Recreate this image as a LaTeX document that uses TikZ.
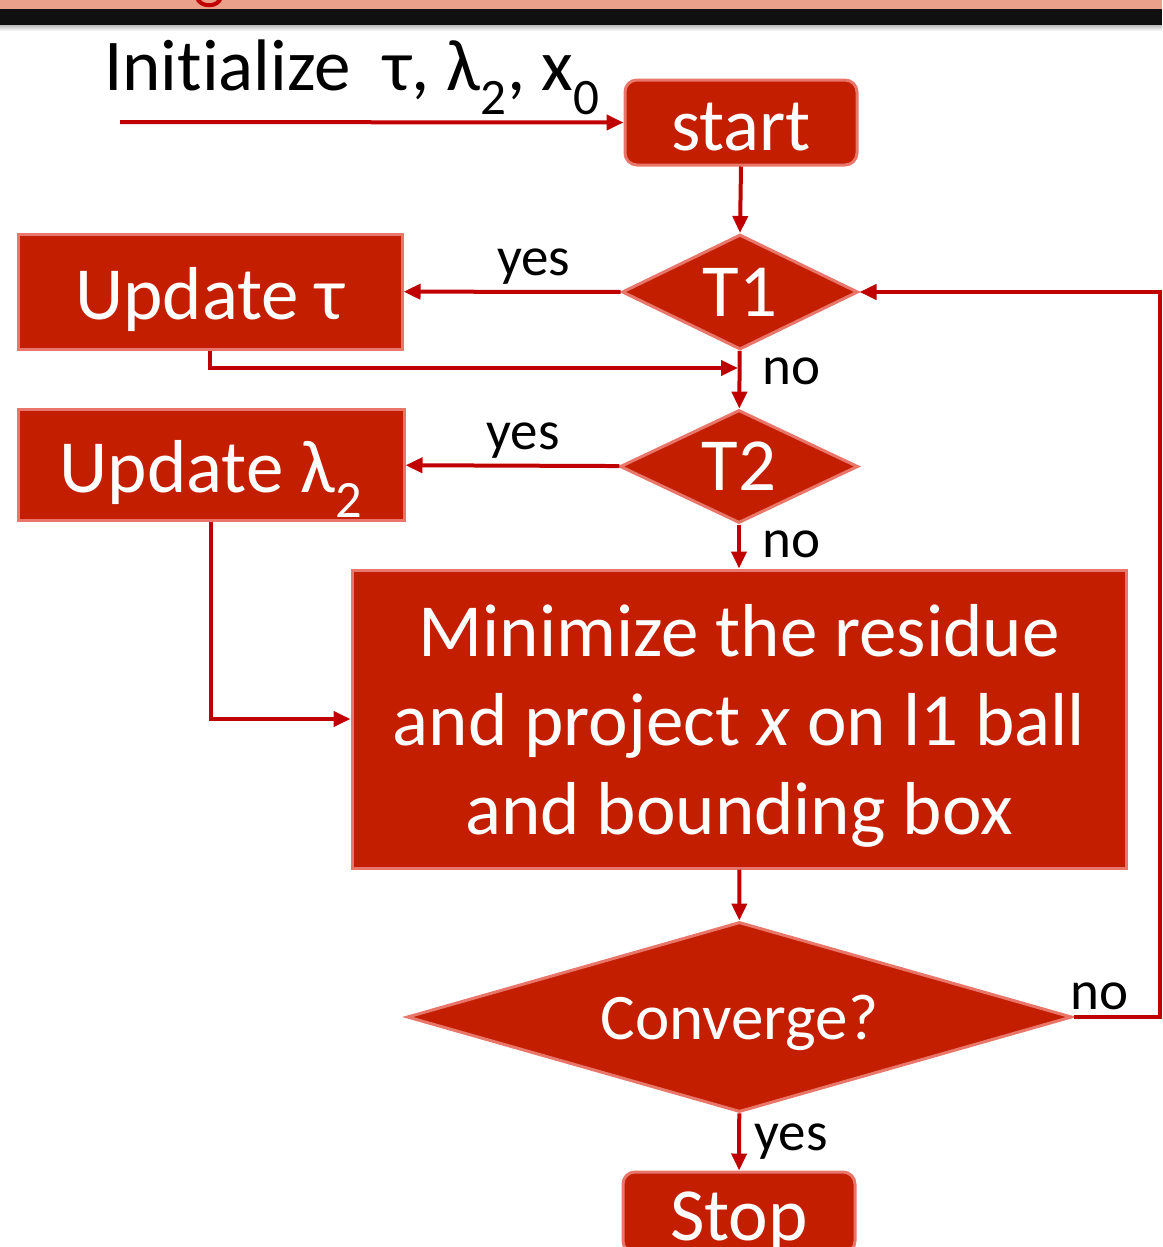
\documentclass[tikz,border=0pt]{standalone}
\usepackage{fontspec}
\setmainfont{Carlito}
\usetikzlibrary{arrows.meta,shapes.geometric,calc}

\definecolor{boxred}{RGB}{196,30,0}
\definecolor{rimred}{RGB}{232,118,106}
\definecolor{linered}{RGB}{192,0,0}
\definecolor{bandpink}{RGB}{234,160,138}
\definecolor{bandblack}{RGB}{16,16,16}

\tikzset{
  redbox/.style={draw=rimred, fill=boxred, line width=3pt, text=white, inner sep=0pt,
    text depth=0pt, font=\fontsize{75}{89}\selectfont},
  onebox/.style={redbox, text height=55pt},
  reddiamond/.style={redbox, shape=diamond, aspect=2},
  flow/.style={draw=linered, line width=4pt, ->},
  lbl/.style={font=\fontsize{55}{64}\selectfont, text=black}
}

\begin{document}
\begin{tikzpicture}[x=1pt,y=-1pt,>={Triangle[length=17pt,width=15pt]}]
    \clip (0,0) rectangle (1162,1247);
    % banner at the top
    \fill[bandpink] (0,0) rectangle (1162,9);
    \fill[bandblack] (0,9) rectangle (1162,26);
    \shade[top color=black!22, bottom color=white] (0,26) rectangle (1162,31);
    \draw[linered, line width=4pt] (197,-3) .. controls (199,8) and (219,8) .. (221,-3);

    \node [anchor=base west, inner sep=0pt, font=\fontsize{73}{80}\selectfont](init) at (104,90) {Init\kern0pt ialize\ \ τ, λ\textsubscript{2}, x\textsubscript{0}};
    \coordinate (initin) at (120,122);

    \node [onebox, rounded corners=12pt, minimum width=232pt, minimum height=85pt](start) at (741,122.5) {start};
    \node [reddiamond, minimum width=236pt, minimum height=115pt](t1) at (740,292) {T1};
    \node [onebox, minimum width=384pt, minimum height=115pt](updtau) at (210,291.5) {Update τ};
    \node [reddiamond, minimum width=238pt, minimum height=113pt](t2) at (739,466.5) {T2};
    \node [onebox, minimum width=386pt, minimum height=111pt](updlam) at (211,464.5) {Update λ\textsubscript{2}};
    \node [redbox, minimum width=774pt, minimum height=298pt, align=center](minres) at (739,719) {Minimize the residue\\and project \textit{x} on l1 ball\\and bounding box};
    \node [reddiamond, minimum width=665pt, minimum height=190pt, font=\fontsize{65}{76}\selectfont](conv) at (739.5,1017) {Converge?};
    \node [onebox, rounded corners=12pt, minimum width=232pt, minimum height=81pt](stop) at (739,1212.5) {Stop};

    \coordinate (merge1) at (738,368);
    \coordinate (loopright) at (1160,1017);

    \draw[flow] (initin) -- (start.west);
    \draw[flow] (start.south) -- (t1.north);
    \draw[flow] (t1) -- node[lbl, above=2pt, pos=0.4] {yes} (updtau);
    \draw[flow] (updtau.south) |- (merge1);
    \draw[flow] (t1) -- node[lbl, right=18pt, pos=0.35] {no} (t2);
    \draw[flow] (t2) -- node[lbl, above=2pt, pos=0.45] {yes} (updlam);
    \draw[flow] (t2) -- node[lbl, right=18pt, pos=0.45] {no} (minres);
    \draw[flow] (updlam.south) |- (minres.west);
    \draw[flow] (minres) -- (conv);
    \draw[flow] (conv.east) -- node[lbl, above=2pt, pos=0.3] {no} (loopright) |- (t1.east);
    \draw[flow] (conv) -- node[lbl, right=10pt, pos=0.5] {yes} (stop);
\end{tikzpicture}
\end{document}
